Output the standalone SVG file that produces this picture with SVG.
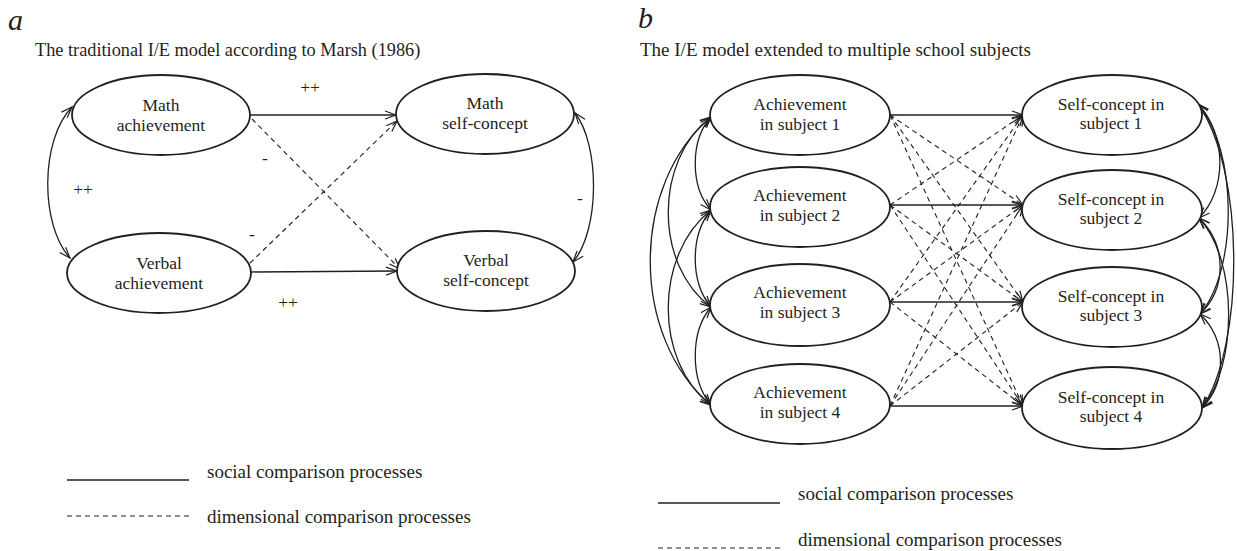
<svg xmlns="http://www.w3.org/2000/svg" width="1237" height="551" viewBox="0 0 1237 551">
<style>
text{font-family:"Liberation Serif","Times New Roman",serif;fill:#231f20}
.lbl{font-size:30px;font-style:italic}
.title{font-size:19px}
.ta{font-size:18.3px}
.nt{font-size:17.5px;text-anchor:middle}
.sign{font-size:17.5px;text-anchor:middle}
.leg{font-size:19px}
ellipse{fill:#fff;stroke:#231f20;stroke-width:1.8}
.s{fill:none;stroke:#231f20;stroke-width:1.3}
.d{fill:none;stroke:#231f20;stroke-width:1.1;stroke-dasharray:5 4}
.arr{marker-end:url(#ah)}
.bi{marker-start:url(#ah);marker-end:url(#ah)}
</style>
<defs>
<marker id="ah" markerUnits="userSpaceOnUse" markerWidth="14" markerHeight="10" refX="12" refY="5" orient="auto-start-reverse" overflow="visible">
<path d="M1,1 L12,5 L1,9" fill="none" stroke="#231f20" stroke-width="1.2"/>
</marker>
</defs>
<rect width="1237" height="551" fill="#fff"/>
<text class="lbl" x="8" y="30">a</text>
<text class="title ta" x="35" y="56">The traditional I/E model according to Marsh (1986)</text>
<text class="lbl" x="638" y="28">b</text>
<text class="title" x="640" y="56">The I/E model extended to multiple school subjects</text>
<g id="connectors">
<path class="s arr" d="M250,115 L396,115"/>
<path class="s arr" d="M251,272 L397,271"/>
<path class="d arr" d="M252,119 L400,269"/>
<path class="d arr" d="M250,263 L397,121"/>
<path class="s bi" d="M72,107 C40,140 40,225 70,258"/>
<path class="s bi" d="M575,113 C600,145 600,230 573,262"/>
<path class="s arr" d="M890,115 L1023,115"/>
<path class="s arr" d="M890,205 L1023,205"/>
<path class="s arr" d="M890,302 L1023,302"/>
<path class="s arr" d="M890,406 L1023,406"/>
<path class="d arr" d="M890,115 L1023,205"/>
<path class="d arr" d="M890,115 L1023,302"/>
<path class="d arr" d="M890,115 L1023,406"/>
<path class="d arr" d="M890,205 L1023,115"/>
<path class="d arr" d="M890,205 L1023,302"/>
<path class="d arr" d="M890,205 L1023,406"/>
<path class="d arr" d="M890,302 L1023,115"/>
<path class="d arr" d="M890,302 L1023,205"/>
<path class="d arr" d="M890,302 L1023,406"/>
<path class="d arr" d="M890,406 L1023,115"/>
<path class="d arr" d="M890,406 L1023,205"/>
<path class="d arr" d="M890,406 L1023,302"/>
<path class="s bi" d="M711,117 C690,140 690,187 711,210"/>
<path class="s bi" d="M711,210 C690,235 690,282 711,307"/>
<path class="s bi" d="M711,307 C690,332 690,380 711,405"/>
<path class="s bi" d="M711,117 C654,160 654,265 711,307"/>
<path class="s bi" d="M711,210 C654,255 654,362 711,405"/>
<path class="s bi" d="M711,117 C630,185 630,337 711,405"/>
<path class="s bi" d="M1198,104 C1227,135 1227,190 1199,218"/>
<path class="s bi" d="M1199,218 C1227,245 1227,288 1200,314"/>
<path class="s bi" d="M1200,314 C1227,340 1227,382 1202,408"/>
<path class="s bi" d="M1198,104 C1238,150 1238,270 1200,314"/>
<path class="s bi" d="M1199,218 C1238,260 1238,365 1202,408"/>
<path class="s bi" d="M1198,104 C1245,170 1245,345 1202,408"/>
</g>
<g id="math-ach"><ellipse cx="161" cy="115" rx="89" ry="40"/><text class="nt" x="161" y="111">Math</text><text class="nt" x="161" y="131">achievement</text></g>
<g id="verbal-ach"><ellipse cx="159" cy="273" rx="92" ry="40"/><text class="nt" x="159" y="269">Verbal</text><text class="nt" x="159" y="289">achievement</text></g>
<g id="math-sc"><ellipse cx="485" cy="114" rx="89" ry="40"/><text class="nt" x="485" y="109">Math</text><text class="nt" x="485" y="129">self-concept</text></g>
<g id="verbal-sc"><ellipse cx="486" cy="271" rx="89" ry="40"/><text class="nt" x="486" y="266">Verbal</text><text class="nt" x="486" y="286">self-concept</text></g>
<g id="labels-a">
<text class="sign" x="310" y="93">++</text>
<text class="sign" x="288" y="308">++</text>
<text class="sign" x="83" y="195">++</text>
<text class="sign" x="265" y="164">-</text>
<text class="sign" x="252" y="240">-</text>
<text class="sign" x="580" y="204">-</text>
</g>
<g id="ach1"><ellipse cx="800" cy="115" rx="90" ry="40"/><text class="nt" x="800" y="110">Achievement</text><text class="nt" x="800" y="130">in subject 1</text></g>
<g id="ach2"><ellipse cx="800" cy="207" rx="90" ry="40"/><text class="nt" x="800" y="201">Achievement</text><text class="nt" x="800" y="221">in subject 2</text></g>
<g id="ach3"><ellipse cx="800" cy="305" rx="90" ry="41"/><text class="nt" x="800" y="298">Achievement</text><text class="nt" x="800" y="318">in subject 3</text></g>
<g id="ach4"><ellipse cx="800" cy="404" rx="90" ry="40"/><text class="nt" x="800" y="398">Achievement</text><text class="nt" x="800" y="418">in subject 4</text></g>
<g id="sc1"><ellipse cx="1112" cy="115" rx="90" ry="40"/><text class="nt" x="1111" y="110">Self-concept in</text><text class="nt" x="1111" y="129">subject 1</text></g>
<g id="sc2"><ellipse cx="1112" cy="210" rx="90" ry="40"/><text class="nt" x="1111" y="205">Self-concept in</text><text class="nt" x="1111" y="224">subject 2</text></g>
<g id="sc3"><ellipse cx="1112" cy="307" rx="90" ry="40"/><text class="nt" x="1111" y="302">Self-concept in</text><text class="nt" x="1111" y="321">subject 3</text></g>
<g id="sc4"><ellipse cx="1112" cy="408" rx="90" ry="41"/><text class="nt" x="1111" y="403">Self-concept in</text><text class="nt" x="1111" y="422">subject 4</text></g>
<g id="legend-a">
<line class="s" x1="67" y1="480" x2="189" y2="480"/>
<text class="leg" x="207" y="478">social comparison processes</text>
<line class="d" x1="67" y1="516" x2="189" y2="516"/>
<text class="leg" x="207" y="523">dimensional comparison processes</text>
</g>
<g id="legend-b">
<line class="s" x1="658" y1="503" x2="780" y2="503"/>
<text class="leg" x="798" y="500">social comparison processes</text>
<line class="d" x1="658" y1="548" x2="780" y2="548"/>
<text class="leg" x="798" y="546">dimensional comparison processes</text>
</g>
</svg>
